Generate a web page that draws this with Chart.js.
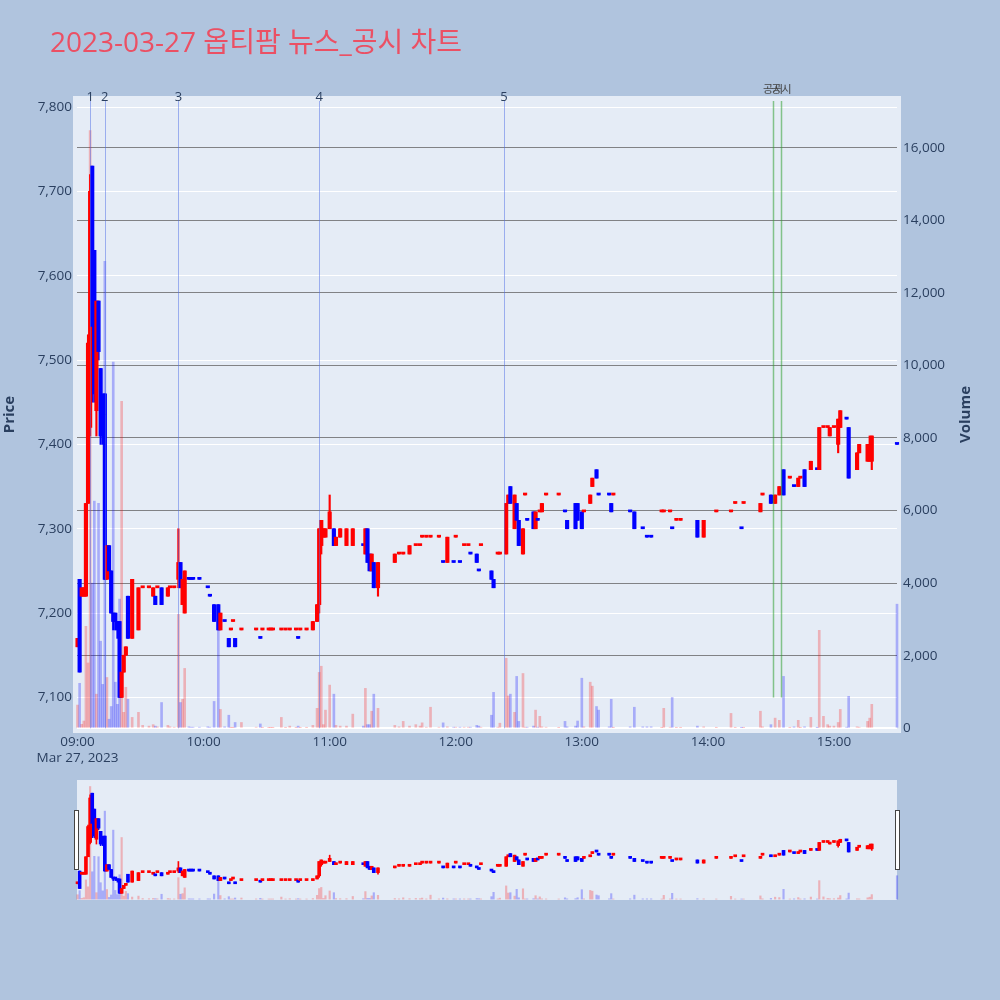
<!DOCTYPE html>
<html>
<head>
<meta charset="utf-8">
<script src="https://cdn.jsdelivr.net/npm/chart.js@4.4.0/dist/chart.umd.min.js"></script>
<style>
html,body{margin:0;padding:0;background:#B0C4DE;width:1000px;height:1000px;overflow:hidden;}
#title{position:absolute;left:50px;top:24px;font-size:28px;line-height:34px;font-family:"Open Sans","Noto Sans CJK KR",sans-serif;color:#EB5064;white-space:nowrap;}
#main{position:absolute;left:0;top:0;}
#mini{position:absolute;left:0;top:770px;}
</style>
</head>
<body>
<canvas id="main" width="1000" height="770"></canvas>
<canvas id="mini" width="1000" height="150"></canvas>
<div id="title">2023-03-27 옵티팜 뉴스_공시 차트</div>
<script>
// ---------------- DATA ----------------
const times = [
'09:00','09:01','09:02','09:03','09:04','09:05','09:06','09:07','09:08','09:09',
'09:10','09:11','09:12','09:13','09:14','09:15','09:16','09:17','09:18','09:19',
'09:20','09:21','09:22','09:23','09:24','09:26','09:29','09:31','09:34','09:36',
'09:37','09:38','09:40','09:43','09:44','09:46','09:48','09:49','09:50','09:51',
'09:53','09:54','09:55','09:58','10:02','10:03','10:05','10:07','10:08','10:10',
'10:12','10:13','10:14','10:15','10:18','10:25','10:27','10:28','10:31','10:32',
'10:33','10:37','10:39','10:41','10:44','10:45','10:46','10:49','10:52','10:54',
'10:55','10:56','10:57','10:58','11:00','11:02','11:03','11:05','11:08','11:11',
'11:16','11:17','11:18','11:19','11:20','11:21','11:23','11:31','11:33','11:35',
'11:38','11:41','11:43','11:44','11:46','11:48','11:52','11:54','11:56','11:59',
'12:00','12:02','12:04','12:06','12:07','12:10','12:11','12:12','12:17','12:18',
'12:20','12:21','12:24','12:25','12:26','12:28','12:29','12:30','12:32','12:33',
'12:34','12:37','12:38','12:39','12:40','12:41','12:43','12:49','12:52','12:53',
'12:57','12:58','13:00','13:01','13:04','13:05','13:07','13:08','13:13','13:14',
'13:15','13:23','13:25','13:29','13:31','13:33','13:38','13:39','13:42','13:43',
'13:45','13:47','13:55','13:58','14:04','14:11','14:13','14:16','14:17','14:25',
'14:26','14:30','14:32','14:34','14:36','14:39','14:41','14:43','14:44','14:46',
'14:49','14:52','14:53','14:55','14:57','14:58','15:00','15:02','15:03','15:06',
'15:07','15:11','15:12','15:16','15:17','15:18','15:30'
];
const open = [
7160,7240,7220,7220,7220,7330,7420,7730,7630,7440,
7570,7490,7440,7460,7240,7280,7250,7200,7200,7190,
7190,7100,7130,7150,7220,7170,7180,7230,7230,7220,
7220,7230,7230,7220,7230,7230,7240,7260,7210,7200,
7240,7240,7240,7240,7230,7220,7210,7210,7180,7190,
7170,7180,7190,7170,7180,7180,7170,7180,7180,7180,
7180,7180,7180,7180,7180,7170,7180,7180,7180,7190,
7210,7280,7290,7290,7300,7300,7280,7290,7280,7280,
7280,7270,7300,7270,7250,7260,7230,7260,7270,7270,
7270,7280,7280,7290,7290,7290,7290,7260,7260,7260,
7290,7260,7280,7280,7270,7270,7250,7280,7250,7240,
7270,7270,7270,7330,7350,7300,7330,7310,7270,7340,
7310,7320,7300,7310,7320,7320,7340,7340,7320,7310,
7330,7330,7320,7320,7330,7350,7370,7340,7340,7330,
7340,7320,7320,7300,7290,7290,7320,7320,7320,7300,
7310,7310,7310,7290,7320,7320,7330,7300,7330,7320,
7340,7340,7330,7340,7370,7360,7350,7350,7360,7370,
7370,7370,7370,7420,7420,7410,7420,7400,7420,7430,
7420,7370,7390,7380,7380,7380,7400
];
const high = [
7170,7240,7230,7230,7330,7530,7720,7730,7630,7570,
7570,7490,7460,7460,7280,7280,7250,7200,7200,7190,
7190,7130,7150,7160,7220,7240,7230,7230,7230,7230,
7220,7230,7230,7230,7230,7230,7300,7260,7240,7250,
7240,7240,7240,7240,7230,7220,7210,7210,7200,7190,
7170,7180,7190,7170,7180,7180,7170,7180,7180,7180,
7180,7180,7180,7180,7180,7170,7180,7180,7190,7210,
7300,7310,7300,7300,7340,7300,7290,7300,7300,7300,
7280,7300,7300,7270,7270,7260,7260,7270,7270,7270,
7280,7280,7280,7290,7290,7290,7290,7260,7290,7260,
7290,7260,7280,7280,7270,7270,7250,7280,7250,7240,
7270,7270,7330,7340,7350,7340,7330,7310,7300,7340,
7310,7320,7320,7310,7320,7330,7340,7340,7320,7310,
7330,7330,7320,7320,7340,7360,7370,7340,7340,7330,
7340,7320,7320,7300,7290,7290,7320,7320,7320,7300,
7310,7310,7310,7310,7320,7320,7330,7300,7330,7330,
7340,7340,7340,7350,7370,7360,7350,7360,7360,7370,
7380,7370,7420,7420,7420,7420,7420,7430,7440,7430,
7420,7390,7400,7400,7410,7410,7400
];
const low = [
7160,7130,7220,7220,7220,7330,7410,7450,7450,7410,
7500,7400,7400,7240,7240,7250,7200,7180,7180,7170,
7100,7100,7130,7150,7170,7170,7180,7230,7230,7220,
7210,7230,7210,7220,7230,7230,7230,7230,7210,7200,
7240,7240,7240,7240,7230,7220,7190,7180,7180,7190,
7160,7180,7190,7160,7180,7180,7170,7180,7180,7180,
7180,7180,7180,7180,7180,7170,7180,7180,7180,7190,
7200,7270,7290,7290,7300,7280,7280,7290,7280,7280,
7280,7270,7260,7250,7250,7230,7220,7260,7270,7270,
7270,7280,7280,7290,7290,7290,7290,7260,7260,7260,
7290,7260,7280,7280,7270,7260,7250,7280,7240,7230,
7270,7270,7270,7330,7330,7300,7310,7280,7270,7340,
7310,7300,7300,7310,7320,7320,7340,7340,7320,7300,
7300,7310,7300,7320,7330,7350,7360,7340,7340,7320,
7340,7320,7300,7300,7290,7290,7320,7320,7320,7300,
7310,7310,7290,7290,7320,7320,7330,7300,7330,7320,
7340,7330,7330,7340,7340,7360,7350,7350,7360,7350,
7370,7370,7370,7420,7420,7410,7420,7390,7420,7430,
7360,7370,7390,7380,7380,7370,7400
];
const close = [
7170,7130,7230,7230,7330,7520,7700,7540,7460,7570,
7510,7410,7410,7240,7280,7250,7200,7190,7190,7180,
7100,7130,7150,7160,7170,7240,7230,7230,7230,7230,
7210,7230,7210,7230,7230,7230,7260,7230,7240,7250,
7240,7240,7240,7240,7230,7220,7190,7180,7200,7190,
7160,7180,7190,7160,7180,7180,7170,7180,7180,7180,
7180,7180,7180,7180,7180,7170,7180,7180,7190,7210,
7300,7310,7300,7300,7320,7280,7290,7300,7300,7300,
7280,7300,7260,7250,7270,7230,7260,7270,7270,7270,
7280,7280,7280,7290,7290,7290,7290,7260,7290,7260,
7290,7260,7280,7280,7270,7260,7250,7280,7240,7230,
7270,7270,7330,7340,7330,7340,7310,7280,7300,7340,
7310,7300,7320,7310,7320,7330,7340,7340,7320,7300,
7300,7310,7300,7320,7340,7360,7360,7340,7340,7320,
7340,7320,7300,7300,7290,7290,7320,7320,7320,7300,
7310,7310,7290,7310,7320,7320,7330,7300,7330,7330,
7340,7330,7340,7350,7340,7360,7350,7360,7360,7350,
7380,7370,7420,7420,7420,7420,7420,7430,7440,7430,
7360,7390,7400,7400,7400,7410,7400
];
const volume = [
640,1240,110,200,2810,1800,16470,4000,6260,940,
6200,2400,1210,12870,1400,250,600,10090,1270,660,
3560,9010,440,1130,800,300,440,80,60,100,
60,40,710,80,40,30,3140,710,800,1650,
40,30,30,30,40,30,740,3300,520,40,
360,20,20,160,160,30,120,20,20,20,
20,300,20,60,20,60,20,20,80,550,
1540,1710,100,500,1190,940,80,60,60,390,
60,1100,100,100,470,940,550,80,40,190,
60,100,60,150,30,580,30,150,40,30,
30,30,30,30,30,80,60,30,360,990,
30,140,1930,890,940,440,1430,190,1510,30,
30,60,500,30,330,40,30,20,190,40,
60,200,1380,40,1270,1160,600,500,40,800,
20,40,580,40,40,40,20,550,30,850,
20,20,60,40,20,410,20,20,20,470,
40,100,280,220,1430,20,40,220,20,40,
300,20,2700,330,100,60,60,160,520,30,
880,40,30,190,280,660,3420
];
const newsTimes = ['09:06','09:13','09:48','10:55','12:23'];
const newsLabels = ['1','2','3','4','5'];
const disclosureTimes = ['14:31','14:35'];
const disclosureLabels = ['공시','공시'];
const xTickTimes = ['09:00','10:00','11:00','12:00','13:00','14:00','15:00'];
const dateLabel = 'Mar 27, 2023';
const priceTicks = [7100,7200,7300,7400,7500,7600,7700,7800];
const volumeTicks = [0,2000,4000,6000,8000,10000,12000,14000,16000];

// ---------------- HELPERS ----------------
const toMin = t => { const p = t.split(':').map(Number); return (p[0]-9)*60 + p[1]; };
const xs = times.map(toMin);
const dir = [];
for (let i = 0; i < xs.length; i++) {
  let d;
  if (close[i] > open[i]) d = 1;
  else if (close[i] < open[i]) d = -1;
  else {
    const pc = i > 0 ? close[i-1] : open[i];
    d = close[i] > pc ? 1 : (close[i] < pc ? -1 : (i > 0 ? dir[i-1] : 1));
  }
  dir.push(d);
}
const UP = '#ff0000', DOWN = '#0000ff';
const UPV = 'rgba(255,0,0,0.25)', DOWNV = 'rgba(0,0,255,0.27)';
const TXT = '#2a3f5f';
const FONT = '"Open Sans", "Noto Sans CJK KR", sans-serif';
Chart.defaults.font.family = FONT;

const X_MIN = -0.25, X_MAX = 390.0;
const P_MIN = 7057.8, P_MAX = 7813.1;
const V_MIN = -130, V_MAX = 17425;

function makeDatasets(bodyW, wickW, volW) {
  return [
    { type:'bar', label:'body', yAxisID:'y', order:1, grouped:false, clip:5,
      data: xs.map((x,i)=>({x:x, y:[open[i], close[i]]})),
      backgroundColor: dir.map(d=>d>0?UP:DOWN), borderWidth:0,
      barThickness: bodyW, minBarLength: 2 },
    { type:'bar', label:'wick', yAxisID:'y', order:2, grouped:false, clip:5,
      data: xs.map((x,i)=>({x:x, y:[low[i], high[i]]})),
      backgroundColor: dir.map(d=>d>0?UP:DOWN), borderWidth:0,
      barThickness: wickW, minBarLength: 0 },
    { type:'bar', label:'volume', yAxisID:'y2', order:3, grouped:false, clip:5,
      data: xs.map((x,i)=>({x:x, y:volume[i]})),
      backgroundColor: dir.map(d=>d>0?UPV:DOWNV), borderWidth:0,
      barThickness: volW }
  ];
}

const fmt = v => Number(v).toLocaleString('en-US');

const mainDecor = {
  id:'mainDecor',
  beforeDraw(chart) {
    const c = chart.ctx, a = chart.chartArea;
    c.save();
    c.fillStyle = '#E5ECF6';
    c.fillRect(a.left-4, a.top, a.right-a.left+8, a.bottom-a.top);
    c.restore();
  },
  afterDatasetsDraw(chart) {
    const c = chart.ctx, a = chart.chartArea, sx = chart.scales.x, sy = chart.scales.y, sv = chart.scales.y2;
    c.save();
    c.lineWidth = 1;
    c.strokeStyle = 'rgba(80,110,230,0.5)';
    newsTimes.forEach(t => {
      const px = Math.round(sx.getPixelForValue(toMin(t))) + 0.5;
      c.beginPath(); c.moveTo(px, a.top+5); c.lineTo(px, sv.getPixelForValue(0)); c.stroke();
    });
    c.lineWidth = 1.5;
    c.strokeStyle = 'rgba(50,160,50,0.55)';
    disclosureTimes.forEach(t => {
      const px = Math.round(sx.getPixelForValue(toMin(t))) + 0.5;
      c.beginPath(); c.moveTo(px, a.top+5); c.lineTo(px, sy.getPixelForValue(7100)); c.stroke();
    });
    c.restore();
  },
  afterDraw(chart) {
    const c = chart.ctx, a = chart.chartArea, sx = chart.scales.x;
    c.save();
    c.textAlign = 'center'; c.textBaseline = 'middle';
    c.fillStyle = TXT;
    c.font = '13px ' + FONT;
    newsTimes.forEach((t,i) => {
      const px = sx.getPixelForValue(toMin(t));
      c.fillText(newsLabels[i], px, a.top + 1);
    });
    c.fillStyle = '#444';
    c.font = '11px ' + FONT;
    disclosureTimes.forEach((t,i) => {
      const px = sx.getPixelForValue(toMin(t));
      c.fillText(disclosureLabels[i], px, a.top - 6);
    });
    // axis titles
    c.fillStyle = TXT;
    c.font = 'bold 15px ' + FONT;
    const cy = (a.top + a.bottom) / 2;
    c.translate(10, cy); c.rotate(-Math.PI/2); c.fillText('Price', 0, 0);
    c.setTransform(1,0,0,1,0,0);
    c.translate(966, cy); c.rotate(-Math.PI/2); c.fillText('Volume', 0, 0);
    c.restore();
  }
};

new Chart(document.getElementById('main'), {
  data: { datasets: makeDatasets(3.5, 1.5, 2) },
  options: {
    responsive:false, animation:false, events:[],
    layout:{ padding:{ top:96, left:0, right:0, bottom:0 } },
    plugins:{ legend:{display:false}, tooltip:{enabled:false} },
    scales:{
      x:{ type:'linear', min:X_MIN, max:X_MAX, offset:false,
          afterBuildTicks: s => { s.ticks = xTickTimes.map(t=>({value: toMin(t)})); },
          afterFit: s => { s.height = 37; },
          grid:{ display:false, drawTicks:false }, border:{display:false},
          ticks:{ color:TXT, font:{size:13.5}, padding:1, maxRotation:0, autoSkip:false,
                  callback:(v,i)=> i===0 ? [xTickTimes[0], dateLabel] : xTickTimes[i] } },
      y:{ type:'linear', position:'left', min:P_MIN, max:P_MAX,
          afterBuildTicks: s => { s.ticks = priceTicks.map(v=>({value:v})); },
          afterFit: s => { s.width = 77; },
          grid:{ color:'#ffffff', lineWidth:1, drawTicks:false }, border:{display:false},
          ticks:{ color:TXT, font:{size:13.5}, padding:5, callback: v => fmt(v) } },
      y2:{ type:'linear', position:'right', min:V_MIN, max:V_MAX,
          afterBuildTicks: s => { s.ticks = volumeTicks.map(v=>({value:v})); },
          afterFit: s => { s.width = 103; },
          grid:{ color: ctx => (ctx.tick && ctx.tick.value === 0) ? '#ffffff' : 'rgba(95,95,95,0.75)',
                 lineWidth: ctx => (ctx.tick && ctx.tick.value === 0) ? 2 : 1, drawTicks:false },
          border:{display:false},
          ticks:{ color:TXT, font:{size:13.5}, padding:6, callback: v => fmt(v) } }
    }
  },
  plugins:[mainDecor]
});

const miniDecor = {
  id:'miniDecor',
  beforeDraw(chart) {
    const c = chart.ctx, a = chart.chartArea;
    c.save(); c.fillStyle = '#E5ECF6';
    c.fillRect(a.left, a.top, a.right-a.left, a.bottom-a.top); c.restore();
  },
  afterDraw(chart) {
    const c = chart.ctx, a = chart.chartArea;
    c.save();
    c.fillStyle = '#ffffff'; c.strokeStyle = '#444'; c.lineWidth = 1;
    [a.left - 3, a.right - 2].forEach(x0 => {
      c.fillRect(Math.round(x0)+0.5, a.top+30.5, 4, 59);
      c.strokeRect(Math.round(x0)+0.5, a.top+30.5, 4, 59);
    });
    c.restore();
  }
};

new Chart(document.getElementById('mini'), {
  data: { datasets: makeDatasets(3, 1, 1.5) },
  options: {
    responsive:false, animation:false, events:[],
    layout:{ padding:{ top:10, left:77, right:103, bottom:20 } },
    plugins:{ legend:{display:false}, tooltip:{enabled:false} },
    scales:{
      x:{ type:'linear', min:X_MIN, max:X_MAX, offset:false, display:false },
      y:{ type:'linear', min:P_MIN, max:P_MAX, display:false },
      y2:{ type:'linear', min:V_MIN, max:V_MAX, display:false }
    }
  },
  plugins:[miniDecor]
});
</script>
</body>
</html>
